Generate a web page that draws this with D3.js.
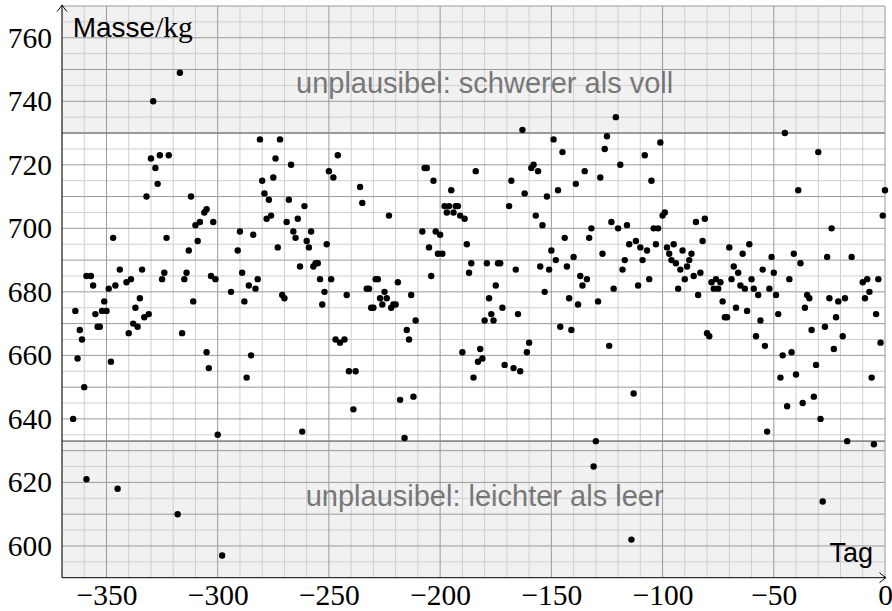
<!DOCTYPE html>
<html>
<head>
<meta charset="utf-8">
<script src="https://cdn.jsdelivr.net/npm/d3@7"></script>
<style>
  body { margin: 0; background: #fff; }
  svg { display: block; }
</style>
</head>
<body>
<div id="chart"></div>
<script>
// daily mass readings: day (relative to today) and mass in kg
var days = [
  -317, -329, -281, -272, -330, -326, -322, -328, -274, -267, -327, -280, -275, -332, -312, -279,
  -277, -268, -306, -305, -278, -276, -310, -308, -302, -269, -290, -284, -266, -347, -323, -265,
  -309, -313, -291, -273, -359, -357, -356, -344, -334, -324, -325, -314, -315, -303, -301, -289,
  -282, -286, -283, -294, -349, -346, -341, -339, -335, -351, -311, -288, -271, -270,
  -364, -355, -352, -350, -337, -331, -333, -338, -336, -340, -354, -353, -362, -361, -363, -348,
  -360, -365, -316, -305, -304, -285, -287, -300, -262, -359, -345, -318, -298,
  -163, -149, -145, -246, -250, -248, -207, -206, -203, -184, -159, -158, -156, -168, -162, -152,
  -147, -135, -139, -128, -236, -235, -223, -261, -264, -195, -198, -196, -193, -192, -197, -194,
  -191, -189, -169, -157, -154, -208, -202, -200, -205, -201, -199, -188, -186, -187, -204, -258,
  -260, -259, -263, -251, -257, -256, -255, -254, -249, -252, -242, -233, -232, -229, -228, -225,
  -227, -224, -219, -213, -179, -174, -173, -166, -175, -178, -155, -151, -153, -150, -148, -143,
  -144, -140, -133, -132, -137, -134, -136, -142, -129,
  -253, -231, -230, -226, -222, -221, -220, -211, -215, -214, -247, -245, -243, -241, -238, -239,
  -218, -212, -216, -190, -185, -182, -183, -181, -180, -176, -177, -172, -165, -171, -167, -164,
  -161, -160, -146, -141, -138, -130, -131,
  -121, -125, -126, -101, -108, -119, -105, -45, -30, -39, 0, -1, -24, -100, -99, -123,
  -120, -116, -104, -102, -85, -81, -82, -127, -115, -112, -110, -107, -103, -117, -109, -118,
  -106, -111, -122, -98, -95, -97, -96, -94, -91, -87, -88, -89, -92, -86, -83, -90,
  -93, -84, -70, -61, -64, -68, -66, -69, -65, -63, -78, -76, -74, -77, -75, -73,
  -60, -59, -57, -55, -52, -51, -50, -49, -43, -41, -38, -35, -34, -26, -25, -21,
  -18, -15, -10, -8, -7, -9, -3,
  -67, -62, -72, -71, -56, -58, -54, -80, -79, -124, -113, -48, -36, -22, -27, -33,
  -19, -4, -2, -23, -42, -46, -31, -40, -47, -6, -32, -37, -44, -29, -53, -17,
  -5, -28, -114
];
var masse = [
  749, 740, 728, 728, 722, 723, 723, 719, 722, 720, 714, 715, 716, 710, 710, 711,
  709, 709, 705, 706, 703, 704, 701, 702, 702, 702, 699, 698, 699, 697, 697, 697,
  696, 693, 693, 694, 685, 685, 682, 687, 687, 686, 684, 686, 684, 685, 684, 686,
  684, 682, 681, 680, 681, 682, 683, 684, 678, 677, 677, 677, 679, 678,
  674, 673, 674, 674, 675, 673, 672, 670, 669, 667, 669, 669, 668, 665, 659, 658,
  650, 640, 667, 661, 656, 660, 653, 635, 636, 621, 618, 610, 597,
  731, 728, 724, 723, 718, 716, 719, 719, 715, 718, 719, 720, 718, 715, 711, 710,
  712, 718, 714, 716, 713, 708, 704, 707, 703, 712, 707, 707, 707, 707, 705, 705,
  704, 703, 707, 704, 701, 699, 699, 698, 694, 692, 692, 695, 689, 686, 685, 699,
  696, 694, 688, 695, 688, 689, 689, 684, 684, 680, 679, 681, 681, 684, 684, 680,
  678, 678, 683, 679, 689, 689, 689, 687, 682, 678, 688, 687, 680, 693, 690, 688,
  697, 691, 697, 700, 685, 684, 682, 678, 677,
  676, 675, 675, 676, 675, 676, 676, 671, 668, 665, 665, 664, 665, 655, 655, 643,
  646, 647, 634, 661, 653, 662, 658, 659, 671, 671, 673, 675, 673, 657, 656, 655,
  661, 664, 669, 668, 676, 633, 625,
  735, 729, 725, 727, 723, 720, 715, 730, 724, 712, 712, 704, 700, 704, 705, 702,
  700, 701, 700, 700, 702, 703, 696, 692, 695, 696, 694, 693, 695, 690, 690, 687,
  684, 682, 681, 694, 695, 692, 690, 689, 693, 692, 690, 688, 687, 685, 686, 684,
  681, 679, 694, 695, 692, 688, 686, 684, 682, 681, 683, 684, 683, 681, 681, 677,
  684, 681, 679, 687, 681, 691, 686, 679, 684, 692, 689, 679, 678, 691, 678, 677,
  678, 691, 683, 684, 680, 678, 684,
  675, 674, 672, 672, 671, 666, 663, 667, 666, 663, 648, 673, 675, 672, 669, 668,
  666, 673, 664, 662, 661, 660, 657, 654, 653, 653, 647, 645, 644, 640, 636, 633,
  632, 614, 602
];
var data = days.map(function (d, i) { return { tag: d, masse: masse[i] }; });

var xTicks = [-350, -300, -250, -200, -150, -100, -50, 0];
var yTicks = [600, 620, 640, 660, 680, 700, 720, 740, 760];
var leer = 633;   // lower plausibility bound
var voll = 730;   // upper plausibility bound

var svgWidth = 892;
var svgHeight = 611;
var margin = { top: 6, right: 7, bottom: 33.3, left: 62 };
var width = svgWidth - margin.left - margin.right;
var height = svgHeight - margin.top - margin.bottom;

var svg = d3.select("#chart")
  .append("svg")
  .attr("width", svgWidth)
  .attr("height", svgHeight);

var plot = svg.append("g")
  .attr("transform", `translate(${margin.left}, ${margin.top})`);

var x = d3.scaleLinear().domain([-370, 0]).range([0, width]);
var y = d3.scaleLinear().domain([590, 770]).range([height, 0]);

// shaded implausible bands
plot.append("rect")
  .attr("x", 0).attr("width", width)
  .attr("y", y(770)).attr("height", y(voll) - y(770))
  .attr("fill", "#f1f1f1");
plot.append("rect")
  .attr("x", 0).attr("width", width)
  .attr("y", y(leer)).attr("height", y(590) - y(leer))
  .attr("fill", "#f1f1f1");

// grid: minor every 10 days / 5 kg, major every 50 days / 10 kg
var grid = plot.append("g");
var xMinor = d3.range(-370, 1, 10).filter(d => d % 50 !== 0);
var xMajor = d3.range(-350, 1, 50);
var yMinor = d3.range(595, 771, 10);
var yMajor = d3.range(600, 771, 10);

grid.selectAll(".xminor").data(xMinor).enter().append("line")
  .attr("x1", d => x(d)).attr("x2", d => x(d))
  .attr("y1", 0).attr("y2", height)
  .attr("stroke", "#cfcfcf").attr("stroke-width", 1);
grid.selectAll(".yminor").data(yMinor).enter().append("line")
  .attr("y1", d => y(d)).attr("y2", d => y(d))
  .attr("x1", 0).attr("x2", width)
  .attr("stroke", "#cfcfcf").attr("stroke-width", 1);
grid.selectAll(".xmajor").data(xMajor).enter().append("line")
  .attr("x1", d => x(d)).attr("x2", d => x(d))
  .attr("y1", 0).attr("y2", height)
  .attr("stroke", "#9a9a9a").attr("stroke-width", 1);
grid.selectAll(".ymajor").data(yMajor).enter().append("line")
  .attr("y1", d => y(d)).attr("y2", d => y(d))
  .attr("x1", 0).attr("x2", width)
  .attr("stroke", "#9a9a9a").attr("stroke-width", 1);

// plausibility limits
plot.selectAll(".limit").data([leer, voll]).enter().append("line")
  .attr("y1", d => y(d)).attr("y2", d => y(d))
  .attr("x1", 0).attr("x2", width)
  .attr("stroke", "#8a8a8a").attr("stroke-width", 1.6);

// band labels
plot.append("text")
  .attr("x", x(-180)).attr("y", y(742.5))
  .attr("text-anchor", "middle")
  .attr("font-family", "'Liberation Sans', Arial, sans-serif")
  .attr("font-size", 29)
  .attr("fill", "#777")
  .text("unplausibel: schwerer als voll");
plot.append("text")
  .attr("x", x(-180)).attr("y", y(612.6))
  .attr("text-anchor", "middle")
  .attr("font-family", "'Liberation Sans', Arial, sans-serif")
  .attr("font-size", 29)
  .attr("fill", "#777")
  .text("unplausibel: leichter als leer");

// axes (labels only, lines drawn by hand with arrows)
var xAxis = plot.append("g")
  .attr("transform", `translate(0, ${height})`)
  .call(d3.axisBottom(x).tickValues(xTicks).tickSize(0).tickPadding(6.5));
var yAxis = plot.append("g")
  .call(d3.axisLeft(y).tickValues(yTicks).tickSize(0).tickPadding(10));
[xAxis, yAxis].forEach(function (ax) {
  ax.select(".domain").remove();
  ax.selectAll("text")
    .attr("font-family", "'Liberation Serif', 'Times New Roman', serif")
    .attr("font-size", 29.5)
    .attr("fill", "#000");
});

plot.append("line")
  .attr("x1", 0).attr("x2", width + 1)
  .attr("y1", height).attr("y2", height)
  .attr("stroke", "#000").attr("stroke-width", 1);
plot.append("line")
  .attr("x1", 0).attr("x2", 0)
  .attr("y1", height).attr("y2", -1)
  .attr("stroke", "#000").attr("stroke-width", 1);

var arrow = "M-5,6.5 Q-1.5,2.5 0,0 Q1.5,2.5 5,6.5";
plot.append("path")
  .attr("d", arrow)
  .attr("transform", "translate(0,-1)")
  .attr("fill", "none").attr("stroke", "#000").attr("stroke-width", 1);
plot.append("path")
  .attr("d", arrow)
  .attr("transform", `translate(${width + 1},${height}) rotate(90)`)
  .attr("fill", "none").attr("stroke", "#000").attr("stroke-width", 1);

// axis titles
var yTitle = plot.append("text")
  .attr("x", 10.7).attr("y", 31.3)
  .attr("font-family", "'Liberation Sans', Arial, sans-serif")
  .attr("font-size", 28)
  .attr("fill", "#000");
yTitle.append("tspan").text("Masse");
yTitle.append("tspan")
  .attr("font-family", "'Liberation Serif', 'Times New Roman', serif")
  .attr("font-size", 29.5)
  .text("/kg");

plot.append("text")
  .attr("x", 811).attr("y", 556)
  .attr("text-anchor", "end")
  .attr("font-family", "'Liberation Sans', Arial, sans-serif")
  .attr("font-size", 27)
  .attr("fill", "#000")
  .text("Tag");

// measurements
plot.selectAll("circle")
  .data(data)
  .enter()
  .append("circle")
  .attr("cx", d => x(d.tag))
  .attr("cy", d => y(d.masse))
  .attr("r", 3.2)
  .attr("fill", "#000");
</script>
</body>
</html>
